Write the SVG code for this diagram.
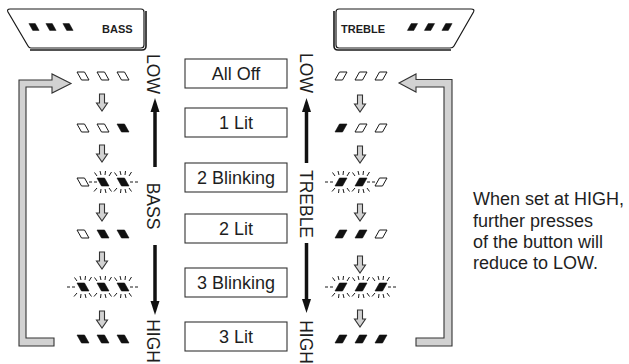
<svg xmlns="http://www.w3.org/2000/svg" xmlns:xlink="http://www.w3.org/1999/xlink" width="629" height="364" viewBox="0 0 629 364">
<style>
.txt{font-family:"Liberation Sans",Arial,Helvetica,sans-serif;fill:#1e1e1e}
.box{fill:#fff;stroke:#333;stroke-width:1.1}
.lbl{font-size:18px;text-anchor:middle}
.vt{font-size:17.5px;text-anchor:middle}
.pl{font-size:11px;font-weight:bold}
.panel{fill:#fff;stroke:#1a1a1a;stroke-width:1.2}
.shadow{fill:none;stroke:#1a1a1a;stroke-width:1.6}
.off{fill:#fff;stroke:#1a1a1a;stroke-width:1}
.on{fill:#111;stroke:#111;stroke-width:0.6}
.ray{stroke:#1a1a1a;stroke-width:1;fill:none}
.dash{stroke:#1a1a1a;stroke-width:1;stroke-dasharray:3,2;fill:none}
.gray{fill:#d2d2d2;stroke:#333;stroke-width:1.1;stroke-linejoin:miter}
.axis{stroke:#111;stroke-width:3.5;fill:none}
.head{fill:#111}
</style>
<defs>
<polygon id="bs" points="-6,-4 1.5,-4 6,4 -1.5,4"/>
<polygon id="ts" points="-1.5,-4 6,-4 1.5,4 -6,4"/>
<g id="rays" class="ray">
<line x1="-6" y1="-6" x2="-8.5" y2="-9.5"/>
<line x1="-2" y1="-7" x2="-3" y2="-11"/>
<line x1="2" y1="-7" x2="2.5" y2="-11"/>
<line x1="6" y1="-6" x2="8.5" y2="-10"/>
<line x1="-6" y1="6" x2="-9" y2="9.5"/>
<line x1="-2" y1="7" x2="-2.5" y2="11"/>
<line x1="2" y1="7" x2="3" y2="11"/>
<line x1="6" y1="6" x2="8.5" y2="9.5"/>
</g>
<polygon id="down" class="gray" points="-2.5,0 2.5,0 2.5,9 5.5,9 0,17 -5.5,9 -2.5,9"/>
</defs>

<!-- BASS panel -->
<g id="panel-bass">
<path class="panel" d="M10,9 L141,9 Q144,9 144,12 L144,45 Q144,48 141,48 L31,48 Q29,48 28,46 L8,12 Q6.5,9 10,9 Z"/>
<path class="shadow" d="M146,11 L146,46 Q146,50 142,50 L30,50"/>
<use href="#bs" class="on" transform="translate(34,27) scale(0.85)"/>
<use href="#bs" class="on" transform="translate(51,27) scale(0.85)"/>
<use href="#bs" class="on" transform="translate(68,27) scale(0.85)"/>
<text class="txt pl" x="102" y="33">BASS</text>
</g>

<!-- TREBLE panel -->
<g id="panel-treble">
<path class="panel" d="M339,9 L471,9 Q475,9 473.5,12 L454,46 Q453,48 450,48 L339,48 Q336,48 336,45 L336,12 Q336,9 339,9 Z"/>
<path class="shadow" d="M334,11 L334,46 Q334,50 338,50 L451,50"/>
<use href="#ts" class="on" transform="translate(412.5,27) scale(0.85)"/>
<use href="#ts" class="on" transform="translate(429.5,27) scale(0.85)"/>
<use href="#ts" class="on" transform="translate(447,27) scale(0.85)"/>
<text class="txt pl" x="341" y="33">TREBLE</text>
</g>

<!-- state boxes -->
<g id="box-alloff"><rect class="box" x="185" y="59" width="102" height="29"/><text class="txt lbl" x="236" y="80">All Off</text></g>
<g id="box-1lit"><rect class="box" x="185" y="108" width="102" height="29"/><text class="txt lbl" x="236" y="129">1 Lit</text></g>
<g id="box-2blink"><rect class="box" x="185" y="163" width="102" height="29"/><text class="txt lbl" x="236" y="184">2 Blinking</text></g>
<g id="box-2lit"><rect class="box" x="185" y="214" width="102" height="29"/><text class="txt lbl" x="236" y="235">2 Lit</text></g>
<g id="box-3blink"><rect class="box" x="185" y="268" width="102" height="29"/><text class="txt lbl" x="236" y="289">3 Blinking</text></g>
<g id="box-3lit"><rect class="box" x="185" y="322" width="102" height="29"/><text class="txt lbl" x="236" y="343">3 Lit</text></g>

<!-- BASS indicator rows -->
<g id="bass-row1"><use href="#bs" class="off" x="83" y="76"/><use href="#bs" class="off" x="103" y="76"/><use href="#bs" class="off" x="123" y="76"/></g>
<g id="bass-row2"><use href="#bs" class="off" x="83" y="128"/><use href="#bs" class="off" x="103" y="128"/><use href="#bs" class="on" x="123" y="128"/></g>
<g id="bass-row3"><use href="#bs" class="off" x="83" y="182"/><use href="#bs" class="on" x="103" y="182"/><use href="#bs" class="on" x="123" y="182"/>
<use href="#rays" x="103" y="182"/><use href="#rays" x="123" y="182"/>
<line class="dash" x1="89" y1="182" x2="97" y2="182"/><line class="dash" x1="130" y1="182" x2="139" y2="182"/></g>
<g id="bass-row4"><use href="#bs" class="off" x="83" y="234"/><use href="#bs" class="on" x="103" y="234"/><use href="#bs" class="on" x="123" y="234"/></g>
<g id="bass-row5"><use href="#bs" class="on" x="83" y="287"/><use href="#bs" class="on" x="103" y="287"/><use href="#bs" class="on" x="123" y="287"/>
<use href="#rays" x="83" y="287"/><use href="#rays" x="103" y="287"/><use href="#rays" x="123" y="287"/>
<line class="dash" x1="67" y1="287" x2="76" y2="287"/><line class="dash" x1="130" y1="287" x2="139" y2="287"/></g>
<g id="bass-row6"><use href="#bs" class="on" x="83" y="339"/><use href="#bs" class="on" x="103" y="339"/><use href="#bs" class="on" x="123" y="339"/></g>

<!-- TREBLE indicator rows -->
<g id="treble-row1"><use href="#ts" class="off" x="341" y="76"/><use href="#ts" class="off" x="361" y="76"/><use href="#ts" class="off" x="381" y="76"/></g>
<g id="treble-row2"><use href="#ts" class="on" x="341" y="128"/><use href="#ts" class="off" x="361" y="128"/><use href="#ts" class="off" x="381" y="128"/></g>
<g id="treble-row3"><use href="#ts" class="on" x="341" y="182"/><use href="#ts" class="on" x="361" y="182"/><use href="#ts" class="off" x="381" y="182"/>
<use href="#rays" x="341" y="182"/><use href="#rays" x="361" y="182"/>
<line class="dash" x1="325" y1="182" x2="334" y2="182"/><line class="dash" x1="367" y1="182" x2="375" y2="182"/></g>
<g id="treble-row4"><use href="#ts" class="on" x="341" y="234"/><use href="#ts" class="on" x="361" y="234"/><use href="#ts" class="off" x="381" y="234"/></g>
<g id="treble-row5"><use href="#ts" class="on" x="341" y="287"/><use href="#ts" class="on" x="361" y="287"/><use href="#ts" class="on" x="381" y="287"/>
<use href="#rays" x="341" y="287"/><use href="#rays" x="361" y="287"/><use href="#rays" x="381" y="287"/>
<line class="dash" x1="325" y1="287" x2="334" y2="287"/><line class="dash" x1="388" y1="287" x2="397" y2="287"/></g>
<g id="treble-row6"><use href="#ts" class="on" x="341" y="339"/><use href="#ts" class="on" x="361" y="339"/><use href="#ts" class="on" x="381" y="339"/></g>

<!-- axis labels -->
<g id="bass-axis-labels">
<text class="txt vt" transform="translate(147,74) rotate(90)">LOW</text>
<text class="txt vt" transform="translate(147,206) rotate(90)">BASS</text>
<text class="txt vt" transform="translate(147,341) rotate(90)">HIGH</text>
</g>
<g id="treble-axis-labels">
<text class="txt vt" transform="translate(299.5,73) rotate(90)">LOW</text>
<text class="txt vt" transform="translate(299.5,204) rotate(90)">TREBLE</text>
<text class="txt vt" transform="translate(299.5,342) rotate(90)">HIGH</text>
</g>

<!-- note -->
<g id="note">
<text class="txt" font-size="18" x="473" y="205">When set at HIGH,</text>
<text class="txt" font-size="18" x="473" y="226.5">further presses</text>
<text class="txt" font-size="18" x="473" y="248">of the button will</text>
<text class="txt" font-size="18" x="473" y="269">reduce to LOW.</text>
</g>

<!-- connectors -->
<g id="connectors">
<line class="axis" x1="155" y1="110" x2="155" y2="167"/>
<polygon class="head" points="155,98 150.5,112 159.5,112"/>
<line class="axis" x1="155" y1="245" x2="155" y2="303"/>
<polygon class="head" points="155,315 150.5,301 159.5,301"/>
<line class="axis" x1="306.5" y1="110" x2="306.5" y2="163"/>
<polygon class="head" points="306.5,98 302,112 311,112"/>
<line class="axis" x1="306.5" y1="243" x2="306.5" y2="301"/>
<polygon class="head" points="306.5,313 302,299 311,299"/>

<use href="#down" x="102" y="94"/>
<use href="#down" x="102" y="145"/>
<use href="#down" x="102" y="204"/>
<use href="#down" x="102" y="252"/>
<use href="#down" x="102" y="311"/>
<use href="#down" x="360" y="95"/>
<use href="#down" x="360" y="146"/>
<use href="#down" x="360" y="204"/>
<use href="#down" x="360" y="256"/>
<use href="#down" x="360" y="310"/>

<polygon class="gray" points="71,83.5 52,74 52,80 19,80 19,346 54,346 54,338 26,338 26,87 52,87 52,93"/>
<polygon class="gray" points="399,83 416,74 416,79.5 452,79.5 452,346 416,346 416,338 444,338 444,87 416,87 416,92"/>
</g>
</svg>
